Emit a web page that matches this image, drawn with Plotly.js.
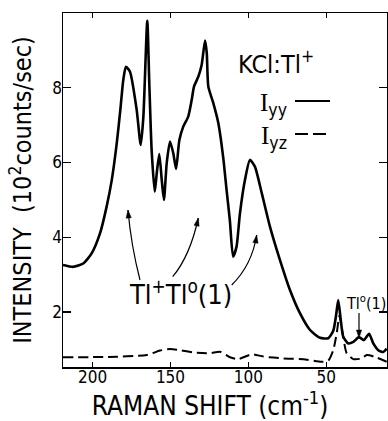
<!DOCTYPE html>
<html>
<head>
<meta charset="utf-8">
<script src="https://cdn.plot.ly/plotly-3.0.1.min.js"></script>
<style>html,body{margin:0;padding:0;background:#fff;}</style>
</head>
<body>
<div id="chart" style="width:388px;height:421px;"></div>
<script>
// Raman shift (cm^-1) and intensity (10^2 counts/sec)
const iyyShift = [219, 212.4, 206, 200.6, 195.2, 191, 187.7, 184.5, 182, 180.3, 178.6, 176, 171.7, 169.1, 167.4, 164.9, 163.6, 162.1, 160.1, 158.8, 157.2, 155.6, 154.2, 152.4, 150.3, 148.2, 146.4, 144.3, 141.8, 138.6, 136.4, 134.9, 132.1, 130, 127.8, 126.7, 125.7, 122.5, 119.3, 116.1, 114, 111.9, 109.8, 107.6, 105.4, 102.2, 99, 95.8, 91.4, 86.1, 79.7, 73.3, 66.9, 60.4, 54, 48.7, 45.5, 43.8, 42.3, 40.7, 39.1, 35.9, 32.6, 29, 25.8, 22.5, 19.8, 16.6, 13.4, 11.2];
const iyyValue = [3.26, 3.21, 3.30, 3.57, 4.11, 4.82, 5.53, 6.51, 7.49, 8.21, 8.56, 8.43, 7.41, 6.47, 7.23, 9.79, 8.12, 6.34, 5.22, 5.72, 6.23, 5.53, 5.0, 5.99, 6.56, 6.25, 5.83, 6.60, 6.96, 7.23, 7.67, 8.03, 8.30, 8.61, 9.26, 8.92, 8.03, 7.59, 7.06, 6.12, 5.27, 4.46, 3.48, 3.75, 4.64, 5.53, 6.07, 5.89, 5.18, 4.28, 3.39, 2.59, 1.97, 1.52, 1.31, 1.30, 1.50, 1.88, 2.32, 1.79, 1.34, 1.16, 1.20, 1.33, 1.25, 1.42, 1.16, 0.98, 0.93, 1.02];

const iyzShift = [219, 190, 165.3, 156.7, 150.3, 143.9, 135.3, 124.6, 118.2, 111.8, 106.5, 97.9, 90.4, 77.6, 64.7, 52.9, 48.7, 45.5, 43.3, 41.5, 39.1, 36.9, 32.6, 27.2, 24, 18.7, 11.2];
const iyzValue = [0.79, 0.80, 0.85, 0.97, 1.01, 0.98, 0.92, 0.90, 0.94, 0.79, 0.74, 0.87, 0.81, 0.76, 0.74, 0.67, 0.70, 0.98, 1.43, 1.90, 1.34, 0.90, 0.74, 0.76, 0.85, 0.80, 0.67];

const xTicks = [200, 150, 100, 50];
const yTicks = [2, 4, 6, 8];

const W = 388, H = 421;
const M = {l: 63, r: 1, t: 13, b: 54};
const xRange = [219, 11], yRange = [0.53, 10.0];
const pw = W - M.l - M.r, ph = H - M.t - M.b;
// helpers to place decorations by page pixel
const px2x = p => xRange[0] + (p - M.l) / pw * (xRange[1] - xRange[0]);
const py2y = p => yRange[1] - (p - M.t) / ph * (yRange[1] - yRange[0]);

const FONT = '"Liberation Sans Narrow", "DejaVu Sans Condensed", "Roboto Condensed", "Arial Narrow", Roboto, sans-serif';

const traces = [
  {x: iyyShift, y: iyyValue, mode: 'lines', name: 'Iyy',
   line: {color: '#000', width: 2.6, shape: 'spline', smoothing: 0.6}},
  {x: iyzShift, y: iyzValue, mode: 'lines', name: 'Iyz',
   line: {color: '#000', width: 2, dash: '10px,5px', shape: 'spline', smoothing: 0.6}}
];

const shapes = [];
const annotations = [];
// arrowhead as filled triangle, given head point and a point behind it (pixels)
function arrowHead(hx, hy, bx, by) {
  const dx = hx - bx, dy = hy - by, n = Math.hypot(dx, dy);
  const ux = dx / n, uy = dy / n, L = 8, w = 2.6;
  const p1 = [hx - ux * L - uy * w, hy - uy * L + ux * w];
  const p2 = [hx - ux * L + uy * w, hy - uy * L - ux * w];
  shapes.push({type: 'path', xref: 'x', yref: 'y',
    path: `M ${px2x(hx)},${py2y(hy)} L ${px2x(p1[0])},${py2y(p1[1])} L ${px2x(p2[0])},${py2y(p2[1])} Z`,
    fillcolor: '#000', line: {color: '#000', width: 0.5}});
}
// curved arrows: [tailPx, tailPy, ctrlPx, ctrlPy, headPx, headPy]
const arrows = [
  [140, 280, 131, 245, 128, 210],
  [172.7, 276.7, 190, 256, 198.3, 218],
  [231.7, 285, 252, 265, 256.7, 235]
];
arrows.forEach(a => {
  shapes.push({type: 'path', xref: 'x', yref: 'y',
    path: `M ${px2x(a[0])},${py2y(a[1])} Q ${px2x(a[2])},${py2y(a[3])} ${px2x(a[4])},${py2y(a[5])}`,
    line: {color: '#000', width: 1.2}});
  arrowHead(a[4], a[5], a[2], a[3]);
});
// Tl°(1) arrow
shapes.push({type: 'line', xref: 'x', yref: 'y', x0: px2x(359), x1: px2x(359), y0: py2y(313), y1: py2y(333),
  line: {color: '#000', width: 1.2}});
arrowHead(359, 338, 359, 313);

// legend samples
shapes.push({type: 'line', xref: 'x', yref: 'y', x0: px2x(295), x1: px2x(330), y0: py2y(101), y1: py2y(101),
  line: {color: '#000', width: 2}});
shapes.push({type: 'line', xref: 'x', yref: 'y', x0: px2x(295), x1: px2x(330), y0: py2y(134), y1: py2y(134),
  line: {color: '#000', width: 2, dash: '13px,5px'}});

const SERIF = 'font-family:\'Liberation Serif\',serif';
annotations.push(
  {x: px2x(236), y: py2y(62), xref: 'x', yref: 'y', xanchor: 'left', yanchor: 'middle', showarrow: false,
   text: 'KCl:Tl<sup>+</sup>', font: {family: FONT, size: 25, color: '#000'}},
  {x: px2x(289), y: py2y(104), xref: 'x', yref: 'y', xanchor: 'right', yanchor: 'middle', showarrow: false,
   text: `<span style="${SERIF}">I</span><sub>yy</sub>`, font: {family: FONT, size: 25, color: '#000'}},
  {x: px2x(289), y: py2y(137), xref: 'x', yref: 'y', xanchor: 'right', yanchor: 'middle', showarrow: false,
   text: `<span style="${SERIF}">I</span><sub>yz</sub>`, font: {family: FONT, size: 25, color: '#000'}},
  {x: px2x(127), y: py2y(292), xref: 'x', yref: 'y', xanchor: 'left', yanchor: 'middle', showarrow: false,
   text: 'Tl<sup>+</sup>Tl<sup>o</sup>(1)', font: {family: FONT, size: 27, color: '#000'}},
  {x: px2x(344), y: py2y(302), xref: 'x', yref: 'y', xanchor: 'left', yanchor: 'middle', showarrow: false,
   text: 'Tl<sup>o</sup>(1)', font: {family: FONT, size: 16, color: '#000'}}
);

const layout = {
  width: W, height: H,
  margin: M,
  paper_bgcolor: '#fff', plot_bgcolor: '#fff',
  showlegend: false,
  font: {family: FONT, color: '#000'},
  xaxis: {
    range: xRange, tickvals: xTicks, ticktext: xTicks.map(String),
    ticks: 'inside', ticklen: 5, tickwidth: 1.2, tickcolor: '#000',
    showline: true, linecolor: '#000', linewidth: 1.5, mirror: 'ticks',
    showgrid: false, zeroline: false, ticklabelstandoff: -6,
    tickfont: {family: FONT, size: 17, color: '#000'},
    title: {text: 'RAMAN SHIFT (cm<sup>-1</sup>)&nbsp;&nbsp;&nbsp;&nbsp;', font: {family: FONT, size: 26, color: '#000'}, standoff: 7}
  },
  yaxis: {
    range: yRange, tickvals: yTicks, ticktext: yTicks.map(String),
    ticks: 'inside', ticklen: 8, tickwidth: 1.2, tickcolor: '#000',
    showline: true, linecolor: '#000', linewidth: 1.5, mirror: 'ticks',
    showgrid: false, zeroline: false, ticklabelstandoff: -4,
    tickfont: {family: FONT, size: 17, color: '#000'},
    title: {text: 'INTENSITY  (10<sup>2</sup>counts/sec)', font: {family: FONT, size: 25, color: '#000'}, standoff: 13}
  },
  shapes: shapes,
  annotations: annotations
};

Plotly.newPlot('chart', traces, layout, {staticPlot: true, displayModeBar: false});
</script>
</body>
</html>
